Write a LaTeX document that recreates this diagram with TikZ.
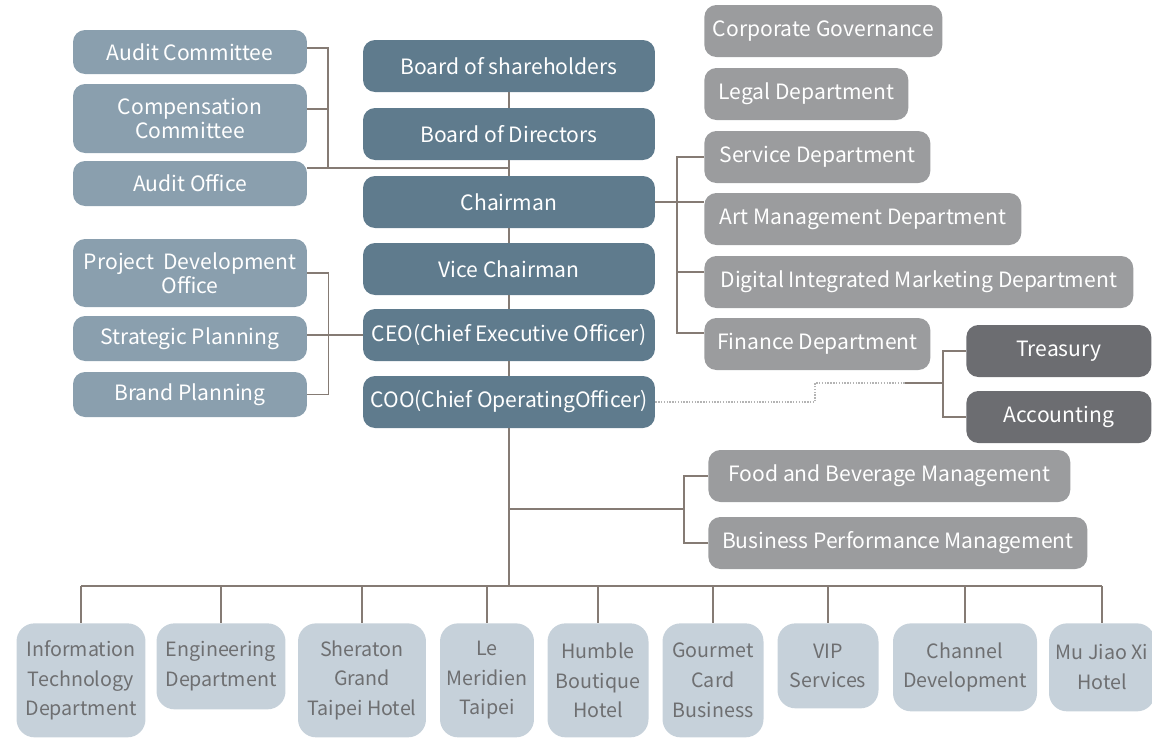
\documentclass[tikz,border=0pt]{standalone}
\usepackage{fontspec}
\setmainfont{Noto Sans CJK TC}
\definecolor{mainblue}{HTML}{5F7B8D}
\definecolor{sideblue}{HTML}{8A9FAE}
\definecolor{staffgray}{HTML}{9B9C9E}
\definecolor{fingray}{HTML}{6C6D71}
\definecolor{unitblue}{HTML}{C6D1DA}
\definecolor{unittext}{HTML}{6E6F71}
\definecolor{linegray}{HTML}{857B74}
\definecolor{dotgray}{HTML}{B4B4B4}
\begin{document}
\begin{tikzpicture}[x=0.02cm, y=-0.02cm,
    box/.style={rounded corners=0.24cm, align=center, inner sep=0pt, text=white,
      font=\fontsize{12}{13.6}\selectfont},
    mainbox/.style={box, fill=mainblue, minimum width=5.84cm, minimum height=1.04cm},
    sidebox/.style={box, fill=sideblue, minimum width=4.68cm},
    staffbox/.style={box, fill=staffgray, anchor=west, minimum height=1.04cm},
    finbox/.style={box, fill=fingray, anchor=west, minimum width=3.7cm, minimum height=1.04cm},
    unitbox/.style={box, rounded corners=0.36cm, fill=unitblue, text=unittext, anchor=north,
      font=\fontsize{11.2}{17}\selectfont},
    link/.style={draw=linegray, line width=0.8pt},
    dotlink/.style={draw=dotgray, line width=0.6pt, dash pattern=on 0.8pt off 0.8pt}]

\useasboundingbox (0,0) rectangle (1152,738);

% centre column
\node[mainbox] (share) at (509,66) {Board of shareholders};
\node[mainbox] (bod) at (509,134) {Board of Directors};
\node[mainbox] (chair) at (509,202) {Chairman};
\node[mainbox] (vice) at (509,269) {Vice Chairman};
\node[mainbox] (ceo) at (509,335) {CEO(Chief Executive Officer)};
\node[mainbox] (coo) at (509,402) {COO(Chief OperatingOfficer)};

% committees and offices
\node[sidebox, minimum height=0.88cm] (audit) at (190,52) {Audit Committee};
\node[sidebox, minimum height=1.38cm] (comp) at (190,118.5) {Compensation\\Committee};
\node[sidebox, minimum height=0.9cm] (aoffice) at (190,183.5) {Audit Office};
\node[sidebox, minimum height=1.36cm] (proj) at (190,273) {Project~ Development\\Office};
\node[sidebox, minimum height=0.9cm] (strat) at (190,338.5) {Strategic Planning};
\node[sidebox, minimum height=0.9cm] (brand) at (190,394.5) {Brand Planning};

% staff departments
\node[staffbox, minimum width=4.76cm] (gov) at (704,31) {Corporate Governance};
\node[staffbox, minimum width=4.08cm] (legal) at (704,94) {Legal Department};
\node[staffbox, minimum width=4.52cm] (service) at (704,157) {Service Department};
\node[staffbox, minimum width=6.34cm] (art) at (704,219) {Art Management Department};
\node[staffbox, minimum width=8.58cm] (digital) at (704,282) {Digital Integrated Marketing Department};
\node[staffbox, minimum width=4.52cm] (finance) at (704,344) {Finance Department};
\node[finbox] (treasury) at (966,351) {Treasury};
\node[finbox] (accounting) at (966,417) {Accounting};
\node[staffbox, minimum width=7.24cm] (food) at (708,476) {Food and Beverage Management};
\node[staffbox, minimum width=7.58cm] (perf) at (708,543) {Business Performance Management};

% business units
\node[unitbox, minimum width=2.58cm, minimum height=2.28cm] (it) at (81,623) {Information\\Technology\\Department};
\node[unitbox, minimum width=2.58cm, minimum height=1.72cm] (eng) at (221,623) {Engineering\\Department};
\node[unitbox, minimum width=2.56cm, minimum height=2.28cm] (sheraton) at (362,623) {Sheraton\\Grand\\Taipei Hotel};
\node[unitbox, minimum width=1.88cm, minimum height=2.28cm] (meridien) at (487,623) {Le\\Meridien\\Taipei\vphantom{g}};
\node[unitbox, minimum width=2.02cm, minimum height=2.28cm] (humble) at (598,623) {Humble\\Boutique\\Hotel};
\node[unitbox, minimum width=2.02cm, minimum height=2.28cm] (gourmet) at (713,623) {Gourmet\\Card\\Business};
\node[unitbox, minimum width=2.02cm, minimum height=1.7cm] (vip) at (828,623) {VIP\\Services};
\node[unitbox, minimum width=2.88cm, minimum height=1.76cm] (channel) at (965,623) {Channel\\Development};
\node[unitbox, minimum width=2.12cm, minimum height=1.76cm] (mujiao) at (1102,623) {Mu Jiao Xi\\Hotel};

% spine
\foreach \a/\b in {share/bod, bod/chair, chair/vice, vice/ceo, ceo/coo}
  \draw[link] (\a) -- (\b);
\coordinate (bus) at (509,586);
\draw[link] (coo) -- (bus);
\draw[link] (it.north |- bus) -- (mujiao.north |- bus);
\foreach \u in {it, eng, sheraton, meridien, humble, gourmet, vip, channel, mujiao}
  \draw[link] (\u.north |- bus) -- (\u.north);

% audit group
\coordinate (audj) at (509,168);
\coordinate (audbar) at (328,168);
\draw[link] (audj) -- (aoffice.east |- audj);
\draw[link] ([yshift=0.08cm]audit.east) -| (audbar);
\draw[link] ([yshift=0.19cm]comp.east) -- ++(21,0);

% planning group
\draw[link] (proj.east) -- ++(21,0) |- (brand.east);
\draw[link] (strat.east |- ceo.west) -- (ceo.west);

% staff group
\draw[link] (chair.east) -- (chair.east -| art.west);
\draw[link] (service.west) -- ++(-27,0) |- ([yshift=0.22cm]finance.west);
\draw[link] ([yshift=0.2cm]digital.west) -- ++(-27,0);

% finance sub units
\draw[link] (treasury.west) -- ++(-23,0) |- (accounting.west);
\coordinate (finbar) at (943,383);
\draw[link] (finbar) -- ++(-38,0) coordinate (finend);
\coordinate (dotturn) at (815,383);
\draw[dotlink] (coo.east) -| (dotturn) -- (finend);

% food group
\coordinate (fbj) at (509,509);
\draw[link] (food.west) -- ++(-24,0) coordinate (fbbar) |- (perf.west);
\draw[link] (fbj) -- (fbj -| fbbar);
\end{tikzpicture}
\end{document}
